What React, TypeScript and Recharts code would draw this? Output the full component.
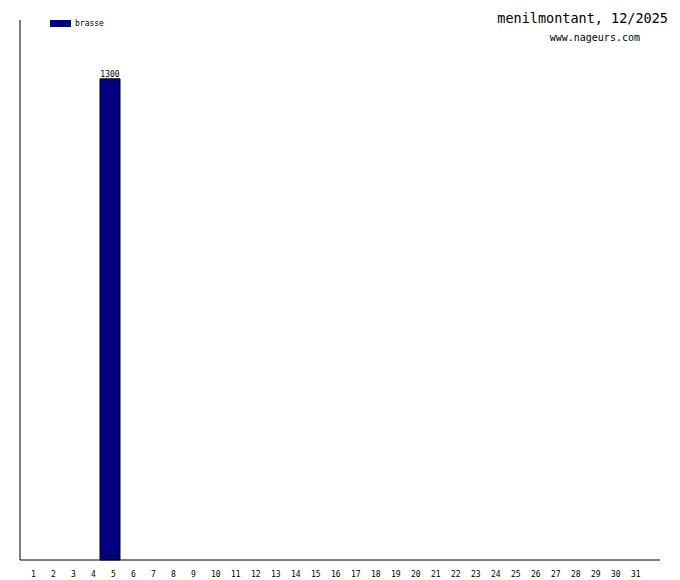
import React from "react";
import { BarChart, Bar, XAxis, YAxis, LabelList } from "recharts";

const days: string[] = Array.from({ length: 31 }, (_, i) => String(i + 1));
const brasse: (number | null)[] = [null, null, null, null, 1300, null, null, null, null, null, null, null, null, null, null, null, null, null, null, null, null, null, null, null, null, null, null, null, null, null, null];
const seriesName = "brasse";
const title = "menilmontant, 12/2025";
const subtitle = "www.nageurs.com";
const yMax = 1459;

const data = days.map((d, i) => ({ day: d, brasse: brasse[i] }));

const MONO = "'DejaVu Sans Mono', 'Liberation Mono', monospace";

const Tick = (props: any) => {
  const { x, y, payload } = props;
  return (
    <text x={x + 1} y={y} dy={9} textAnchor="start" fontFamily={MONO} fontSize={8} fill="#000">
      {payload.value}
    </text>
  );
};

const TopLabel = (props: any) => {
  const { x, y, width, value } = props;
  if (value === null || value === undefined) return null;
  return (
    <text x={x + width / 2} y={y - 2} textAnchor="middle" fontFamily={MONO} fontSize={8} fill="#000">
      {value}
    </text>
  );
};

export default function App() {
  return (
    <div style={{ position: "absolute", left: 0, top: 0, width: 680, height: 580, background: "#fff" }}>
      <BarChart
        width={680}
        height={580}
        data={data}
        margin={{ top: 20, right: 20, bottom: 0, left: 19 }}
        barCategoryGap={0}
      >
        <XAxis
          dataKey="day"
          type="category"
          height={20}
          padding={{ left: 0, right: 20 }}
          axisLine={{ stroke: "#000", strokeWidth: 1 }}
          tickLine={false}
          interval={0}
          tick={<Tick />}
        />
        <YAxis
          width={1}
          domain={[0, yMax]}
          tick={false}
          tickLine={false}
          axisLine={{ stroke: "#000", strokeWidth: 1 }}
        />
        <Bar dataKey="brasse" name={seriesName} fill="#000080" stroke="#000" strokeWidth={1} isAnimationActive={false}>
          <LabelList dataKey="brasse" content={<TopLabel />} />
        </Bar>
      </BarChart>
      <div style={{ position: "absolute", left: 50, top: 19, display: "flex", alignItems: "center", fontFamily: MONO, fontSize: 8, color: "#000", lineHeight: "9px" }}>
        <span style={{ display: "inline-block", width: 21, height: 7, background: "#000080", marginRight: 4 }} />
        <span>{seriesName}</span>
      </div>
      <div style={{ position: "absolute", right: 12, top: 10, fontFamily: MONO, fontSize: 13.5, color: "#000", lineHeight: "16px" }}>
        {title}
      </div>
      <div style={{ position: "absolute", right: 40, top: 31, fontFamily: MONO, fontSize: 10, color: "#000", lineHeight: "13px" }}>
        {subtitle}
      </div>
    </div>
  );
}
